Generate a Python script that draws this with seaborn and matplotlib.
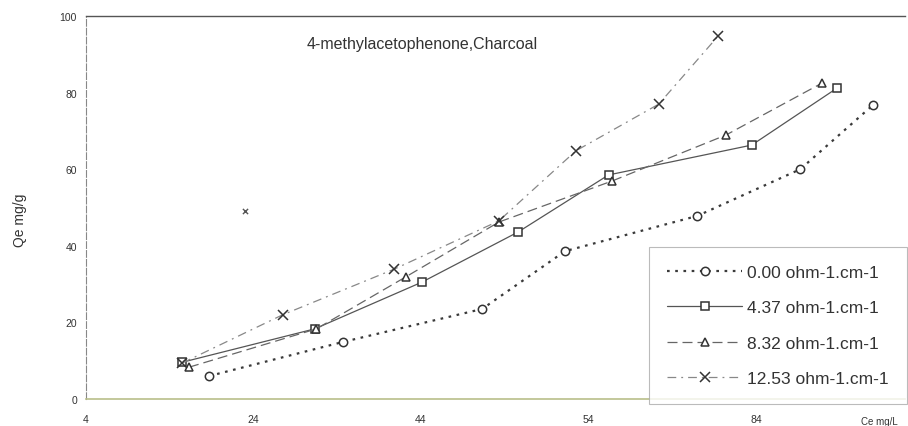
import matplotlib
matplotlib.use("Agg")
import matplotlib.pyplot as plt
import seaborn as sns
import numpy as np

sns.set_theme(style="white")
plt.rcParams['font.family'] = ['Liberation Sans', 'DejaVu Sans']

# ---- data ----
labels = ["0.00 ohm-1.cm-1", "4.37 ohm-1.cm-1", "8.32 ohm-1.cm-1", "12.53 ohm-1.cm-1"]

ce_000 = [18.7, 34.7, 51.3, 61.2, 77.0, 89.3, 98.0]
qe_000 = [6.0, 14.9, 23.5, 38.6, 47.8, 60.0, 76.8]

ce_437 = [15.5, 31.3, 44.1, 55.6, 66.4, 83.5, 93.7]
qe_437 = [9.6, 18.3, 30.5, 43.6, 58.5, 66.3, 81.2]

ce_832 = [16.3, 31.5, 42.2, 53.3, 66.8, 80.4, 91.9]
qe_832 = [8.3, 18.3, 31.9, 46.2, 56.9, 68.9, 82.5]

ce_1253 = [15.5, 27.5, 40.8, 53.3, 62.5, 72.4, 79.5]
qe_1253 = [9.4, 22.0, 33.9, 46.5, 64.8, 77.0, 94.8]

stray_ce = [23.0]
stray_qe = [49.0]

xtick_pos = [4, 24, 44, 64, 84]
xtick_labels = ["4", "24", "44", "54", "84"]
ytick_pos = [0, 20, 40, 60, 80, 100]

# ---- figure ----
fig = plt.figure(figsize=(9.08, 4.27), dpi=100)
ax = fig.add_axes([86/908, 27/427, (905-86)/908, (400-17)/427])

styles = [
    dict(marker="o", linestyle=(0, (1.2, 2.5)), color="#3a3a3a", lw=1.6),
    dict(marker="s", linestyle="-", color="#555555", lw=0.9),
    dict(marker="^", linestyle=(0, (8, 4)), color="#666666", lw=0.9),
    dict(marker="x", linestyle=(0, (7, 4, 1.5, 4)), color="#888888", lw=0.9),
]
series = [(ce_000, qe_000), (ce_437, qe_437), (ce_832, qe_832), (ce_1253, qe_1253)]

for (xs, ys), lab, st in zip(series, labels, styles):
    mk = st["marker"]
    sns.lineplot(x=xs, y=ys, ax=ax, label=lab, marker=mk,
                 linestyle=st["linestyle"], color=st["color"], linewidth=st["lw"],
                 markersize=6 if mk != "x" else 7,
                 markerfacecolor="white" if mk != "x" else "#333333",
                 markeredgecolor="#333333", markeredgewidth=1.1,
                 sort=False, estimator=None)

sns.scatterplot(x=stray_ce, y=stray_qe, ax=ax, marker="x", s=14,
                color="#555555", linewidth=1.0, legend=False)

ax.set_xlim(4, 101.8)
ax.set_ylim(0, 100)
ax.set_xticks(xtick_pos)
ax.set_xticklabels(xtick_labels)
ax.set_yticks(ytick_pos)
ax.tick_params(axis="both", labelsize=7.5, colors="#333333", length=3, width=0.7,
               direction="out")
ax.tick_params(axis="x", pad=8)

for s in ["right"]:
    ax.spines[s].set_visible(False)
ax.spines["top"].set_color("#555555")
ax.spines["top"].set_linewidth(1.0)
ax.spines["left"].set_color("#888888")
ax.spines["left"].set_linestyle((0, (6, 2)))
ax.spines["left"].set_linewidth(0.8)
ax.spines["bottom"].set_color("#b9bf8a")
ax.spines["bottom"].set_linewidth(1.2)

ax.set_ylabel("Qe mg/g", fontsize=10, color="#333333")
ax.yaxis.set_label_coords(-0.072, 0.47)
ax.set_xlabel("Ce mg/L", fontsize=7, color="#333333")
ax.xaxis.set_label_coords(0.969, -0.045)

ax.text(44.2, 92.7, "4-methylacetophenone,Charcoal", fontsize=11.5,
        color="#333333", ha="center", va="center")

leg = ax.legend(loc="upper left", bbox_to_anchor=(649/908, (427-248)/427),
                bbox_transform=fig.transFigure, borderaxespad=0,
                fontsize=12.5, labelspacing=1.15, handlelength=4.3,
                handletextpad=0.3, frameon=True, fancybox=False,
                borderpad=1.05)
leg.get_frame().set_edgecolor("#aaaaaa")
leg.get_frame().set_linewidth(0.8)
for t in leg.get_texts():
    t.set_color("#333333")

fig.savefig("out.png", dpi=100)
